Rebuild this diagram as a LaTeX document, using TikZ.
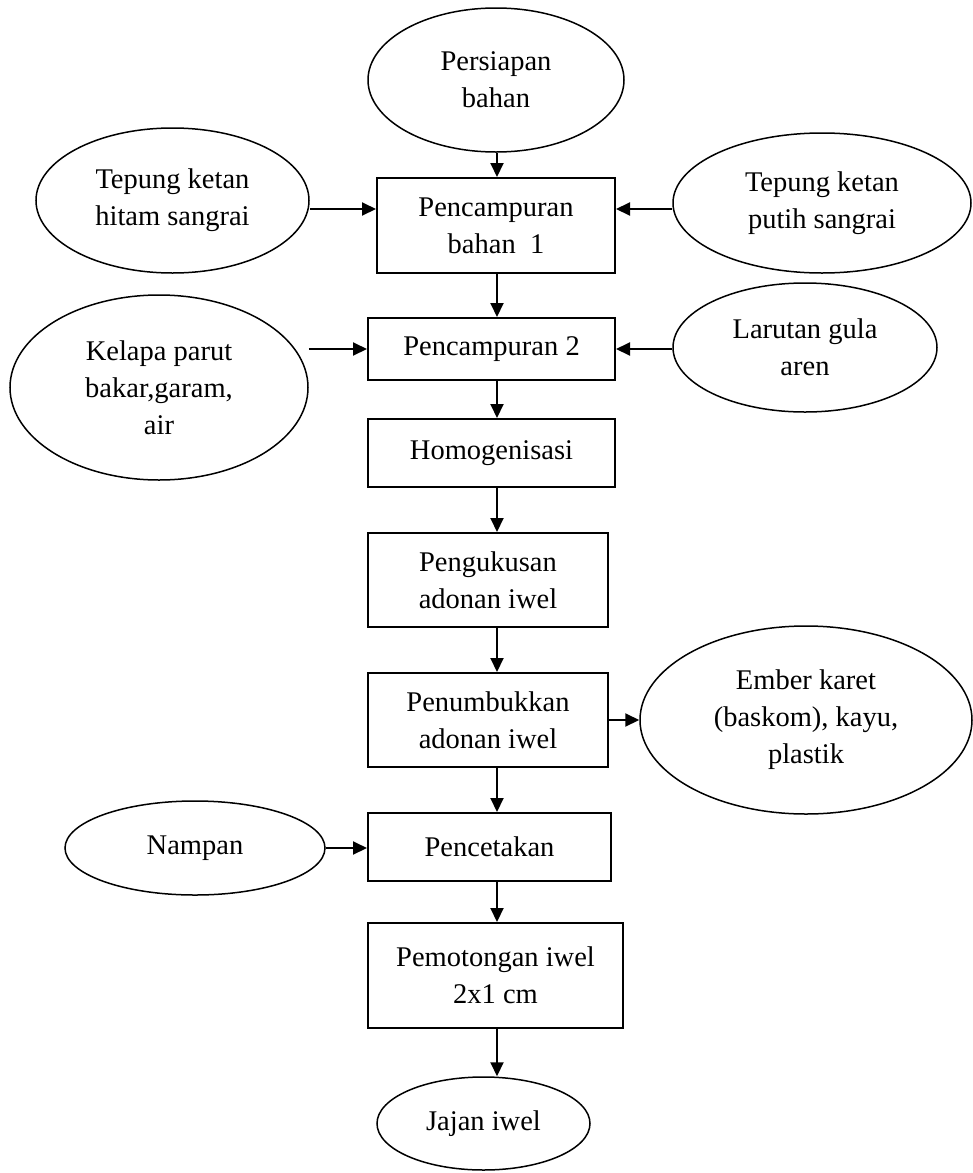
\documentclass[tikz,border=0pt]{standalone}
\usepackage{fontspec}
\setmainfont{Liberation Serif}
\usepackage{tikz}
\usetikzlibrary{shapes.geometric}
\usetikzlibrary{arrows.meta}
\tikzset{
    proses/.style = {rectangle, draw=black, line width=1pt, fill=white, align=center, inner sep=0pt},
    bahan/.style = {ellipse, draw=black, line width=0.75pt, fill=white, align=center, inner sep=0pt},
    ukuran/.style 2 args = {minimum width=#1*0.5pt, minimum height=#2*0.5pt},
    panah/.style = {-{Triangle[length=7pt,width=6.5pt]}, line width=1pt}
}

\begin{document}
\begin{tikzpicture}[
	x=0.5pt,
	y=-0.5pt,
	font=\fontsize{14.25pt}{18.5pt}\selectfont
]
\useasboundingbox (0,0) rectangle (973,1173);
\node[bahan, ukuran={256}{144}] at (496,80) (persiapan) {Persiapan\\bahan};
\node[proses, ukuran={238}{95}] at (496,225.5) (camp1) {Pencampuran\\bahan\ \ 1};
\node[bahan, ukuran={273}{145}] at (172.5,200.5) (hitam) {Tepung ketan\\hitam sangrai};
\node[bahan, ukuran={298}{140}] at (822,203) (putih) {Tepung ketan\\putih sangrai};
\node[proses, ukuran={247}{62}] at (491.5,349) (camp2) {Pencampuran 2};
\node[bahan, ukuran={298}{185}] at (159,387.5) (kelapa) {Kelapa parut\\bakar,garam,\\air};
\node[bahan, ukuran={264}{129}] at (805,347.5) (aren) {Larutan gula\\aren};
\node[proses, ukuran={247}{68}] at (491.5,453) (homog) {Homogenisasi};
\node[proses, ukuran={240}{94}] at (488,580) (kukus) {Pengukusan\\adonan iwel};
\node[proses, ukuran={240}{94}] at (488,720) (tumbuk) {Penumbukkan\\adonan iwel};
\node[bahan, ukuran={332}{188}] at (806,720) (ember) {Ember karet\\(baskom), kayu,\\plastik};
\node[proses, ukuran={243}{68}] at (489.5,847) (cetak) {Pencetakan};
\node[bahan, ukuran={260}{94}] at (195,848) (nampan) {Nampan};
\node[proses, ukuran={255}{105}] at (495.5,975.5) (potong) {Pemotongan iwel\\2x1 cm};
\node[bahan, ukuran={213}{93}] at (483.5,1123.5) (jajan) {Jajan iwel};
\coordinate (sumbu) at (497,0);
\coordinate (atas) at (0,209);
%
\draw[panah] (persiapan.south -| sumbu) -- (camp1.north -| sumbu);
\draw[panah] (hitam.east |- atas) -- (camp1.west |- atas);
\draw[panah] (putih.west |- atas) -- (camp1.east |- atas);
%
\draw[panah] (camp1.south -| sumbu) -- (camp2.north -| sumbu);
\draw[panah] (kelapa.east |- camp2.west) -- (camp2.west);
\draw[panah] (aren.west |- camp2.east) -- (camp2.east);
%
\draw[panah] (camp2.south -| sumbu) -- (homog.north -| sumbu);
\draw[panah] (homog.south -| sumbu) -- (kukus.north -| sumbu);
\draw[panah] (kukus.south -| sumbu) -- (tumbuk.north -| sumbu);
\draw[panah] (tumbuk.east) -- (ember.west);
%
\draw[panah] (tumbuk.south -| sumbu) -- (cetak.north -| sumbu);
\draw[panah] (nampan.east) -- (nampan.east -| cetak.west);
\draw[panah] (cetak.south -| sumbu) -- (potong.north -| sumbu);
\draw[panah] (potong.south -| sumbu) -- (jajan.north -| sumbu);
\end{tikzpicture}
\end{document}
